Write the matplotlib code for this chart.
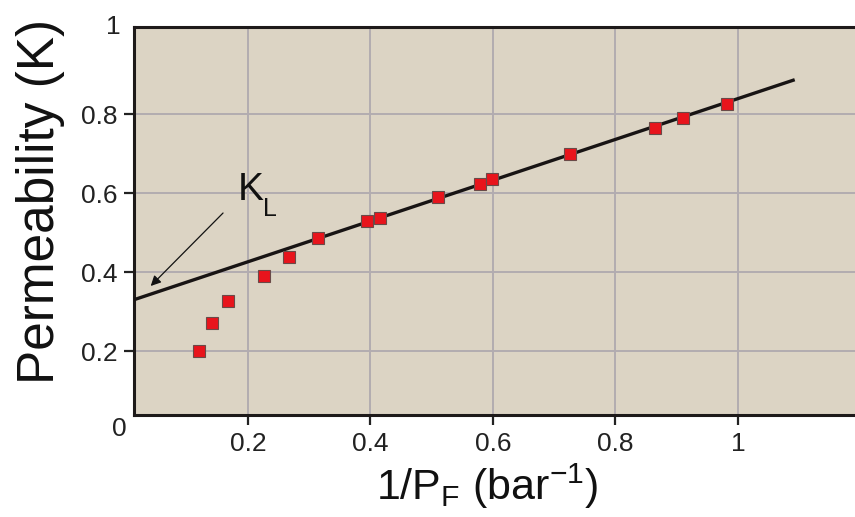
import matplotlib
matplotlib.use("Agg")
import matplotlib.pyplot as plt

plt.rcParams['font.family'] = ['Liberation Sans', 'DejaVu Sans']
plt.rcParams['mathtext.default'] = 'regular'

# measured points (1/PF, permeability)
inv_p = [0.120, 0.141, 0.167, 0.226, 0.267, 0.314, 0.394, 0.416,
         0.510, 0.579, 0.598, 0.726, 0.864, 0.910, 0.982]
perm = [0.201, 0.271, 0.327, 0.391, 0.438, 0.487, 0.530, 0.537,
        0.591, 0.624, 0.636, 0.699, 0.766, 0.791, 0.826]

# fitted line
fit_x = [0.0, 1.09]
fit_intercept = 0.323
fit_slope = 0.517
fit_y = [fit_intercept + fit_slope * v for v in fit_x]

xticks = [0.2, 0.4, 0.6, 0.8, 1.0]
yticks = [0.2, 0.4, 0.6, 0.8]

fig = plt.figure(figsize=(8.55, 5.17), dpi=100)
ax = fig.add_axes([0.1567, 0.1973, 0.8433, 0.7505])
ax.set_facecolor('#dcd4c4')

ax.set_xlim(0.0139, 1.191)
ax.set_ylim(0.038, 1.0215)

ax.grid(True, color='#b2acb0', linewidth=1.4)
ax.set_axisbelow(True)

ax.plot(fit_x, fit_y, color='#181414', linewidth=2.4, zorder=3)
ax.plot(inv_p, perm, linestyle='none', marker='s', markersize=8.5,
        markerfacecolor='#e8141c', markeredgecolor='#6a4a48',
        markeredgewidth=0.8, zorder=4)

ax.set_xticks(xticks)
ax.set_xticklabels(['0.2', '0.4', '0.6', '0.8', '1'])
ax.set_yticks(yticks)
ax.set_yticklabels(['0.2', '0.4', '0.6', '0.8'])
ax.tick_params(direction='out', length=7, width=1.6, color='#222222',
               labelsize=19, labelcolor='#222222', pad=5)

for side in ['left', 'bottom', 'top']:
    ax.spines[side].set_linewidth(2.2)
    ax.spines[side].set_color('#1e1a1a')
ax.spines['right'].set_visible(False)

# corner labels
ax.text(-0.019, 1.0, '1', transform=ax.transAxes, ha='right', va='center',
        fontsize=19, color='#222222')
ax.text(-0.01, -0.035, '0', transform=ax.transAxes, ha='right', va='center',
        fontsize=19, color='#222222')

ax.set_ylabel('Permeability (K)', fontsize=37, color='#111111')
ax.yaxis.set_label_coords(-0.096, 0.55)
ax.set_xlabel(r'1/P$_{F}$ (bar$^{-1}$)', fontsize=31, color='#111111',
              labelpad=4)
ax.xaxis.label.set_x(0.49)

ax.annotate('', xy=(0.038, 0.360), xytext=(0.1625, 0.555),
            arrowprops=dict(arrowstyle='-|>', color='#111111', lw=0.9,
                            mutation_scale=15))
ax.text(0.184, 0.583, 'K', fontsize=28, color='#111111',
        ha='left', va='baseline')
ax.text(0.2245, 0.543, 'L', fontsize=18, color='#111111',
        ha='left', va='baseline')

fig.savefig('out.png', dpi=100)
